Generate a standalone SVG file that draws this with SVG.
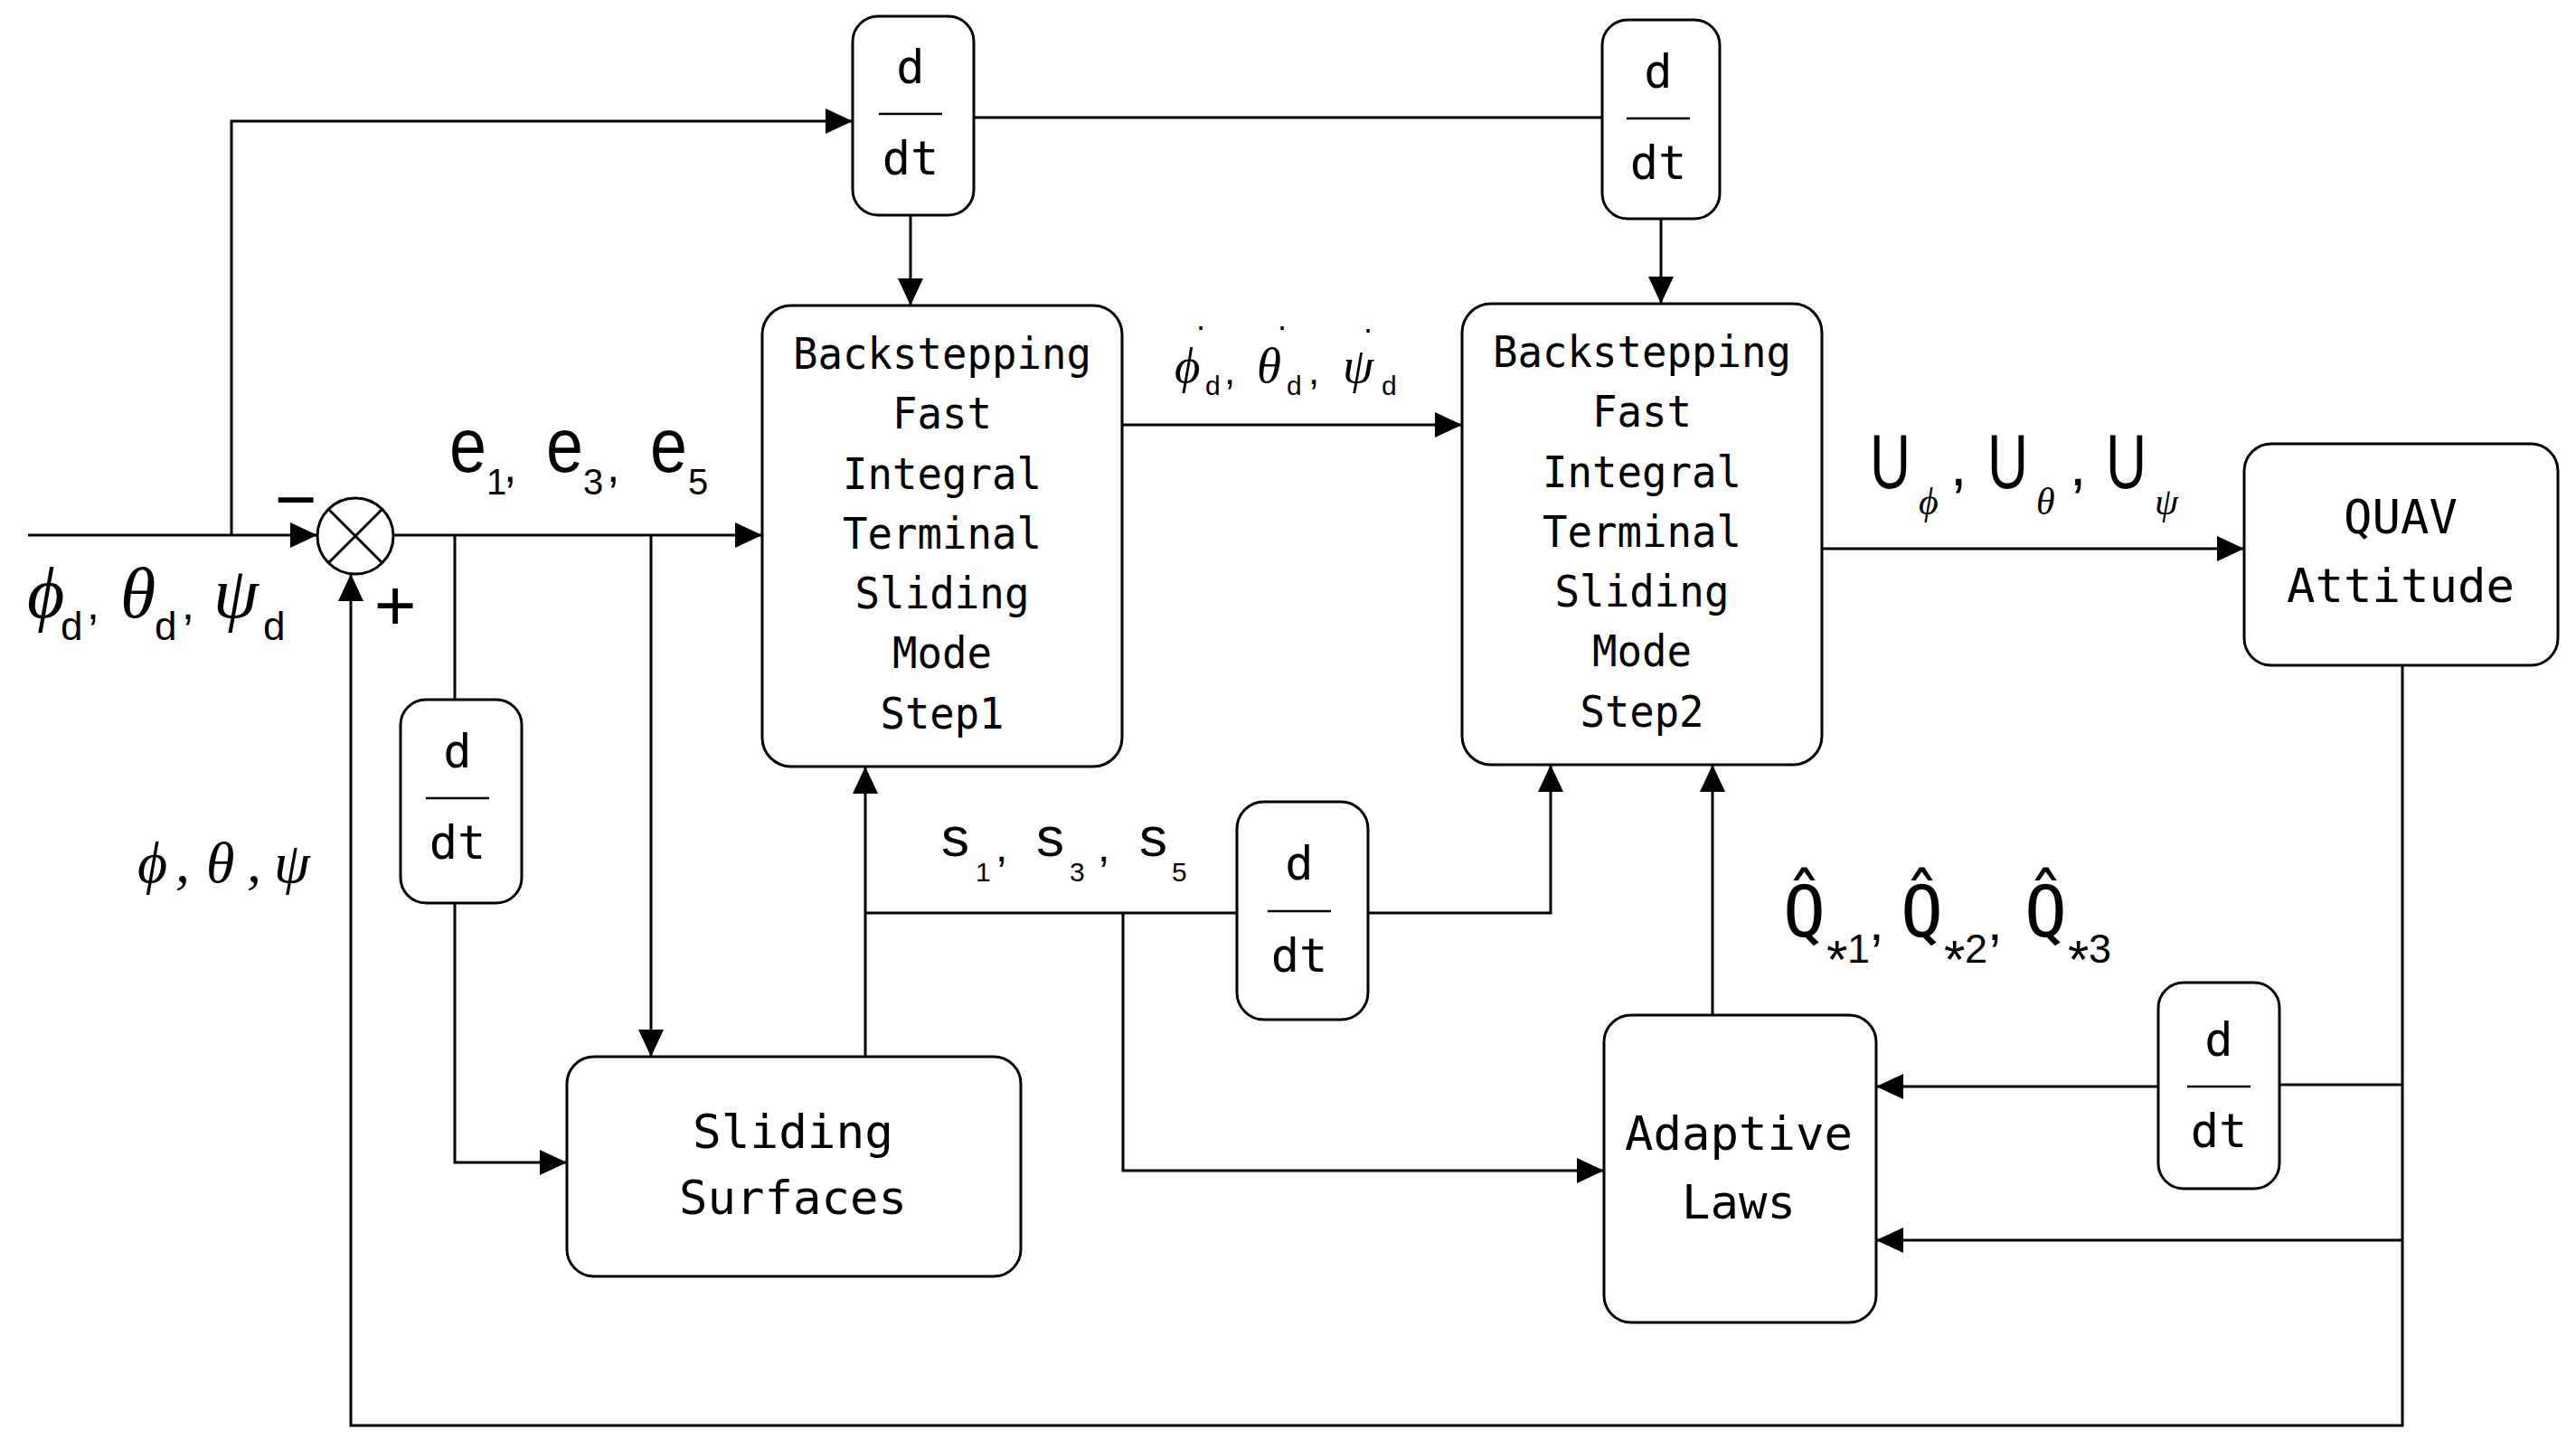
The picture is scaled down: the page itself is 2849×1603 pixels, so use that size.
<svg xmlns="http://www.w3.org/2000/svg" width="2849" height="1603" viewBox="0 0 2849 1603">
<style>
.ln{fill:none;stroke:#000;stroke-width:3}
.bx{fill:#fff;stroke:#000;stroke-width:3}
.fr{stroke:#000;stroke-width:2.5}
.mono{font-family:"DejaVu Sans Mono","Liberation Mono",monospace;fill:#000;text-anchor:middle}
.qm{font-family:"DejaVu Sans Mono","Liberation Mono",monospace;fill:#000}
.bt{font-size:48px}
.lt{font-size:51px}
.dd{font-size:52px}
.sans{font-family:"Liberation Sans",Arial,sans-serif;font-style:normal;fill:#000}
.gr{font-family:"Liberation Serif","Times New Roman",serif;font-style:italic;fill:#000}
</style>
<defs>
<marker id="ah" markerUnits="userSpaceOnUse" markerWidth="30" markerHeight="28" refX="30" refY="14" orient="auto" viewBox="0 0 30 28"><path d="M0,0 L30,14 L0,28 z" fill="#000"/></marker>
</defs>
<rect width="2849" height="1603" fill="#fff"/>

<g id="connectors" class="ln">
<path d="M31,592 H351" marker-end="url(#ah)"/>
<path d="M256,592 V134 H943" marker-end="url(#ah)"/>
<path d="M1077,130 H1772"/>
<path d="M1007,238 V338" marker-end="url(#ah)"/>
<path d="M1837,242 V336" marker-end="url(#ah)"/>
<path d="M435,592 H843" marker-end="url(#ah)"/>
<path d="M503,592 V774"/>
<path d="M503,999 V1286 H627" marker-end="url(#ah)"/>
<path d="M720,592 V1169" marker-end="url(#ah)"/>
<path d="M957,1169 V848" marker-end="url(#ah)"/>
<path d="M957,1010 H1368"/>
<path d="M1242,1010 V1295 H1774" marker-end="url(#ah)"/>
<path d="M1513,1010 H1715 V846" marker-end="url(#ah)"/>
<path d="M1894,1123 V846" marker-end="url(#ah)"/>
<path d="M1241,470 H1617" marker-end="url(#ah)"/>
<path d="M2015,607 H2482" marker-end="url(#ah)"/>
<path d="M2657,736 V1577 H388 V635" marker-end="url(#ah)"/>
<path d="M2657,1200 H2521"/>
<path d="M2387,1202 H2075" marker-end="url(#ah)"/>
<path d="M2657,1372 H2075" marker-end="url(#ah)"/>
</g>

<g id="sum">
<circle cx="393" cy="593" r="42" class="bx"/>
<path d="M363,563 L423,623 M423,563 L363,623" class="ln"/>
<text x="327" y="580" class="sans" font-size="80" text-anchor="middle">−</text>
<text x="437" y="697" class="sans" font-size="80" text-anchor="middle">+</text>
</g>

<g id="ddt1">
<rect x="943" y="18" width="134" height="220" rx="28" class="bx"/>
<text x="1007" y="92" class="mono dd">d</text>
<line x1="972" y1="126" x2="1042" y2="126" class="fr"/>
<text x="1007" y="193" class="mono dd">dt</text>
</g>

<g id="ddt2">
<rect x="1772" y="22" width="130" height="220" rx="28" class="bx"/>
<text x="1834" y="97" class="mono dd">d</text>
<line x1="1799" y1="131" x2="1869" y2="131" class="fr"/>
<text x="1834" y="198" class="mono dd">dt</text>
</g>

<g id="ddt3">
<rect x="443" y="774" width="134" height="225" rx="28" class="bx"/>
<text x="506" y="849" class="mono dd">d</text>
<line x1="471" y1="883" x2="541" y2="883" class="fr"/>
<text x="506" y="950" class="mono dd">dt</text>
</g>

<g id="ddt4">
<rect x="1368" y="887" width="145" height="241" rx="30" class="bx"/>
<text x="1437" y="973" class="mono dd">d</text>
<line x1="1402" y1="1008" x2="1472" y2="1008" class="fr"/>
<text x="1437" y="1075" class="mono dd">dt</text>
</g>

<g id="ddt5">
<rect x="2387" y="1087" width="134" height="228" rx="28" class="bx"/>
<text x="2454" y="1168" class="mono dd">d</text>
<line x1="2419" y1="1202" x2="2489" y2="1202" class="fr"/>
<text x="2454" y="1269" class="mono dd">dt</text>
</g>

<g id="step1">
<rect x="843" y="338" width="398" height="510" rx="32" class="bx"/>
<text class="mono bt" lengthAdjust="spacingAndGlyphs" x="1042" y="408" textLength="330">Backstepping</text>
<text class="mono bt" lengthAdjust="spacingAndGlyphs" x="1042" y="474" textLength="110">Fast</text>
<text class="mono bt" lengthAdjust="spacingAndGlyphs" x="1042" y="541" textLength="220">Integral</text>
<text class="mono bt" lengthAdjust="spacingAndGlyphs" x="1042" y="607" textLength="220">Terminal</text>
<text class="mono bt" lengthAdjust="spacingAndGlyphs" x="1042" y="673" textLength="193">Sliding</text>
<text class="mono bt" lengthAdjust="spacingAndGlyphs" x="1042" y="739" textLength="110">Mode</text>
<text class="mono bt" lengthAdjust="spacingAndGlyphs" x="1042" y="806" textLength="137">Step1</text>
</g>

<g id="step2">
<rect x="1617" y="336" width="398" height="510" rx="32" class="bx"/>
<text class="mono bt" lengthAdjust="spacingAndGlyphs" x="1816" y="406" textLength="330">Backstepping</text>
<text class="mono bt" lengthAdjust="spacingAndGlyphs" x="1816" y="472" textLength="110">Fast</text>
<text class="mono bt" lengthAdjust="spacingAndGlyphs" x="1816" y="539" textLength="220">Integral</text>
<text class="mono bt" lengthAdjust="spacingAndGlyphs" x="1816" y="605" textLength="220">Terminal</text>
<text class="mono bt" lengthAdjust="spacingAndGlyphs" x="1816" y="671" textLength="193">Sliding</text>
<text class="mono bt" lengthAdjust="spacingAndGlyphs" x="1816" y="737" textLength="110">Mode</text>
<text class="mono bt" lengthAdjust="spacingAndGlyphs" x="1816" y="804" textLength="137">Step2</text>
</g>

<g id="quav">
<rect x="2482" y="491" width="347" height="245" rx="30" class="bx"/>
<text class="mono lt" lengthAdjust="spacingAndGlyphs" x="2655" y="590" textLength="126">QUAV</text>
<text class="mono lt" lengthAdjust="spacingAndGlyphs" x="2655" y="666" textLength="252">Attitude</text>
</g>

<g id="sliding">
<rect x="627" y="1169" width="502" height="243" rx="30" class="bx"/>
<text class="mono lt" lengthAdjust="spacingAndGlyphs" x="877" y="1270" textLength="222">Sliding</text>
<text class="mono lt" lengthAdjust="spacingAndGlyphs" x="877" y="1343" textLength="252">Surfaces</text>
</g>

<g id="adaptive">
<rect x="1774" y="1123" width="301" height="340" rx="30" class="bx"/>
<text class="mono lt" lengthAdjust="spacingAndGlyphs" x="1923" y="1272" textLength="252">Adaptive</text>
<text class="mono lt" lengthAdjust="spacingAndGlyphs" x="1923" y="1348" textLength="126">Laws</text>
</g>

<g id="labels">
<!-- phi_d, theta_d, psi_d -->
<text class="gr" font-size="80" x="30" y="683">ϕ</text>
<text class="sans" font-size="44" x="67" y="708">d</text>
<text class="sans" font-size="50" x="96" y="685">,</text>
<text class="gr" font-size="80" x="133" y="683">θ</text>
<text class="sans" font-size="44" x="171" y="708">d</text>
<text class="sans" font-size="50" x="201" y="685">,</text>
<text class="gr" font-size="80" x="236" y="683">ψ</text>
<text class="sans" font-size="44" x="291" y="708">d</text>

<!-- feedback phi, theta, psi -->
<text class="gr" font-size="64" x="152" y="976">ϕ</text>
<text class="gr" font-size="64" x="194" y="976">,</text>
<text class="gr" font-size="64" x="228" y="976">θ</text>
<text class="gr" font-size="64" x="273" y="976">,</text>
<text class="gr" font-size="64" x="303" y="976">ψ</text>

<!-- e1, e3, e5 -->
<text class="sans" font-size="86" x="497" y="522" textLength="41" lengthAdjust="spacingAndGlyphs">e</text>
<text class="sans" font-size="40" x="538" y="547">1</text>
<text class="sans" font-size="52" x="557" y="533">,</text>
<text class="sans" font-size="86" x="604" y="522" textLength="41" lengthAdjust="spacingAndGlyphs">e</text>
<text class="sans" font-size="40" x="645" y="547">3</text>
<text class="sans" font-size="52" x="671" y="533">,</text>
<text class="sans" font-size="86" x="719" y="522" textLength="41" lengthAdjust="spacingAndGlyphs">e</text>
<text class="sans" font-size="40" x="761" y="547">5</text>

<!-- dotted phi_d, theta_d, psi_d -->
<text class="gr" font-size="55" x="1299" y="423">ϕ</text>
<text class="sans" font-size="36" x="1328" y="365" text-anchor="middle">.</text>
<text class="sans" font-size="30" x="1333" y="437">d</text>
<text class="sans" font-size="44" x="1354" y="425">,</text>
<text class="gr" font-size="55" x="1390" y="423">θ</text>
<text class="sans" font-size="36" x="1418" y="365" text-anchor="middle">.</text>
<text class="sans" font-size="30" x="1423" y="437">d</text>
<text class="sans" font-size="44" x="1447" y="425">,</text>
<text class="gr" font-size="55" x="1485" y="423">ψ</text>
<text class="sans" font-size="36" x="1513" y="368" text-anchor="middle">.</text>
<text class="sans" font-size="30" x="1528" y="437">d</text>

<!-- U_phi, U_theta, U_psi -->
<text class="sans" font-size="86" x="2068" y="540" textLength="45" lengthAdjust="spacingAndGlyphs">U</text>
<text class="gr" font-size="42" x="2122" y="569">ϕ</text>
<text class="sans" font-size="66" x="2157" y="537">,</text>
<text class="sans" font-size="86" x="2198" y="540" textLength="45" lengthAdjust="spacingAndGlyphs">U</text>
<text class="gr" font-size="42" x="2252" y="569">θ</text>
<text class="sans" font-size="66" x="2289" y="537">,</text>
<text class="sans" font-size="86" x="2329" y="540" textLength="45" lengthAdjust="spacingAndGlyphs">U</text>
<text class="gr" font-size="42" x="2383" y="569">ψ</text>

<!-- s1, s3, s5 -->
<text class="sans" font-size="62" x="1041" y="947">s</text>
<text class="sans" font-size="30" x="1079" y="975">1</text>
<text class="sans" font-size="48" x="1101" y="953">,</text>
<text class="sans" font-size="62" x="1146" y="947">s</text>
<text class="sans" font-size="30" x="1183" y="975">3</text>
<text class="sans" font-size="48" x="1214" y="953">,</text>
<text class="sans" font-size="62" x="1260" y="947">s</text>
<text class="sans" font-size="30" x="1296" y="975">5</text>

<!-- Q hat labels -->
<text class="qm" font-size="78" x="1972" y="1036">Q̂</text>
<text class="sans" font-size="60" x="2020" y="1082">*</text>
<text class="sans" font-size="45" x="2043" y="1065">1</text>
<text class="sans" font-size="60" x="2067" y="1040">,</text>
<text class="qm" font-size="78" x="2102" y="1036">Q̂</text>
<text class="sans" font-size="60" x="2150" y="1082">*</text>
<text class="sans" font-size="45" x="2173" y="1065">2</text>
<text class="sans" font-size="60" x="2198" y="1040">,</text>
<text class="qm" font-size="78" x="2239" y="1036">Q̂</text>
<text class="sans" font-size="60" x="2287" y="1082">*</text>
<text class="sans" font-size="45" x="2310" y="1065">3</text>
</g>
</svg>
